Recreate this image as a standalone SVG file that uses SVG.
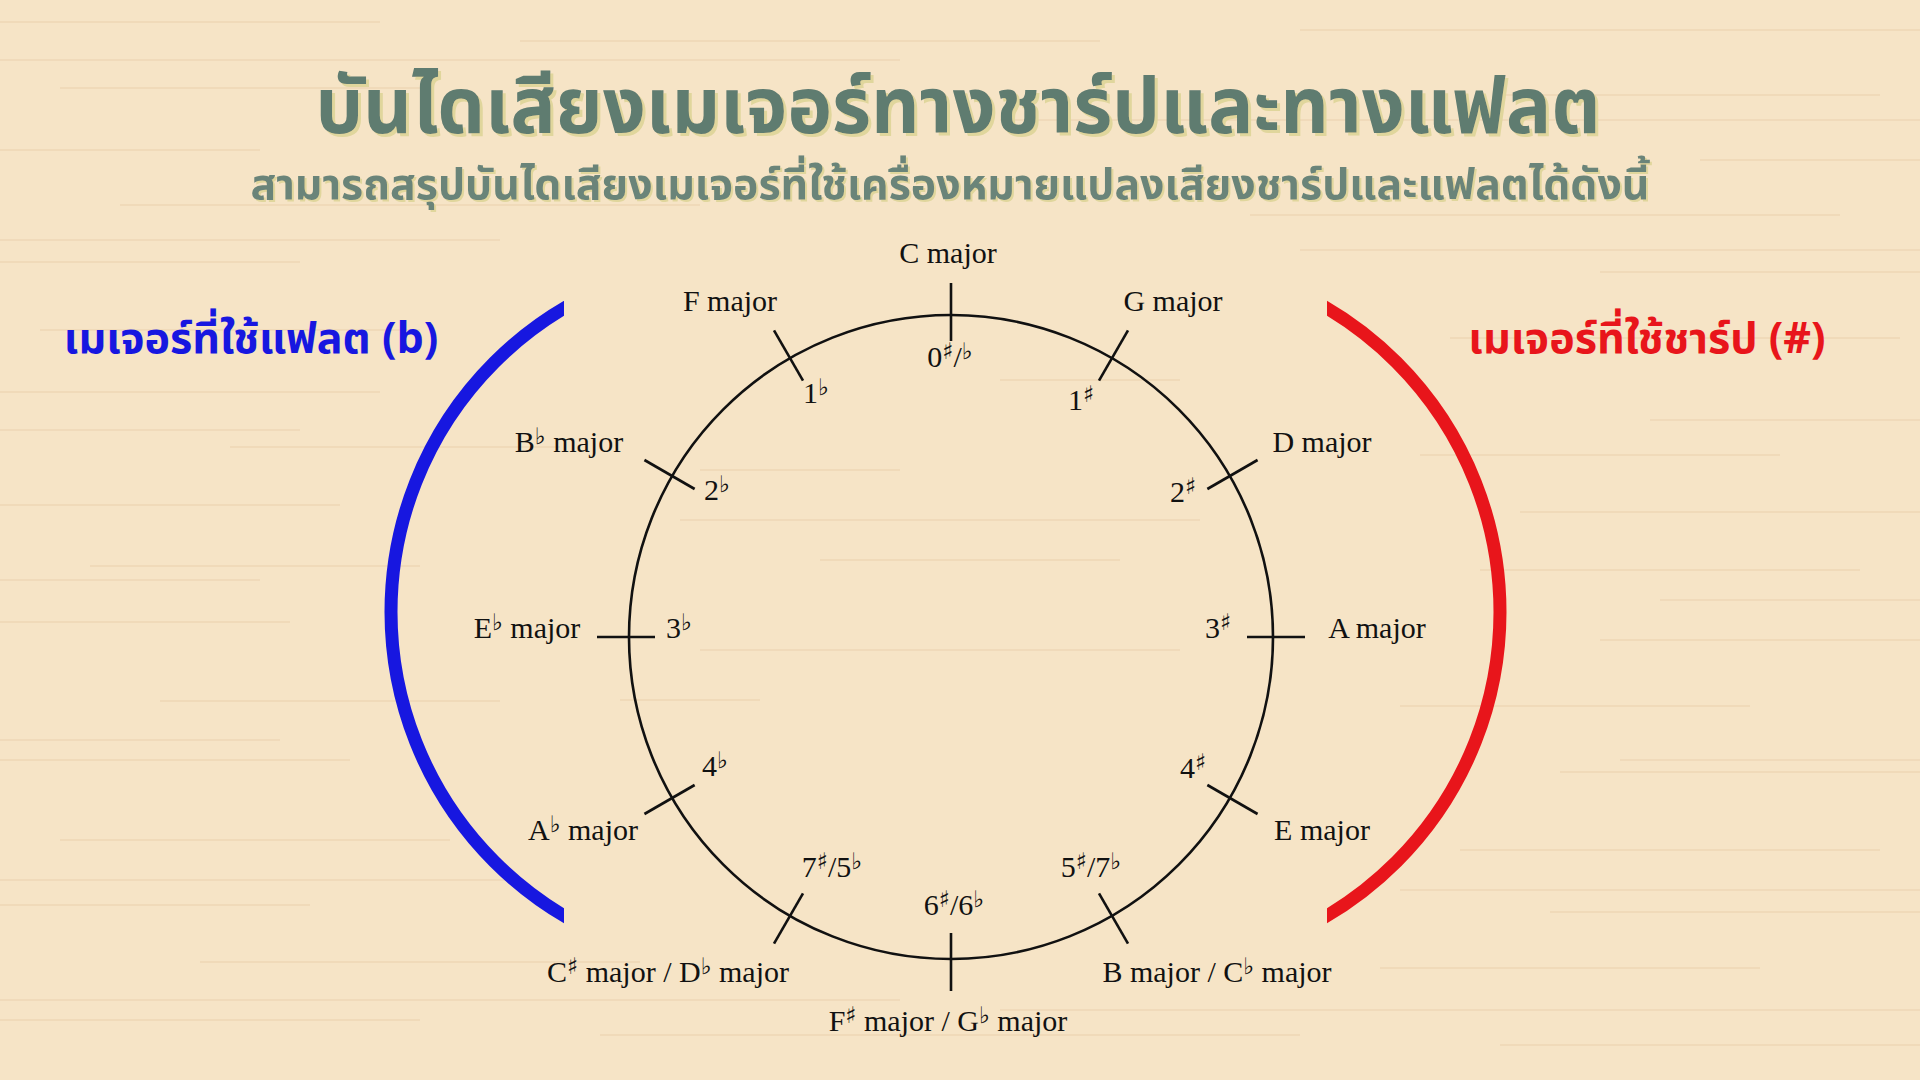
<svg xmlns="http://www.w3.org/2000/svg" width="1920" height="1080" viewBox="0 0 1920 1080">
<style>
.thai{font-family:"Noto Sans Thai","Noto Sans Thai Looped","Noto Sans","DejaVu Sans",sans-serif;font-weight:bold}
.title{font-size:78px;fill:#5f7b70;text-anchor:middle;filter:url(#sh)}
.sub{font-size:42px;fill:#6a8479;text-anchor:middle;filter:url(#sh2)}
.side{font-size:43px}
.lbl{font-family:"Liberation Serif","Times New Roman",serif;font-size:30px;fill:#111;text-anchor:middle}
.acc{font-family:"DejaVu Sans",sans-serif;font-size:23px}
.tick{stroke:#111;stroke-width:2.6;fill:none}
.streak{stroke:#e6c9a4;fill:none}
</style>
<defs>
<clipPath id="clipL"><rect x="0" y="0" width="564" height="1080"/></clipPath>
<clipPath id="clipR"><rect x="1327" y="0" width="593" height="1080"/></clipPath>
<filter id="sh" x="-5%" y="-20%" width="110%" height="140%"><feDropShadow dx="3" dy="3" stdDeviation="0.5" flood-color="#e0d69c" flood-opacity="1"/></filter>
<filter id="sh2" x="-5%" y="-20%" width="110%" height="140%"><feDropShadow dx="2" dy="2" stdDeviation="0.4" flood-color="#e0d69c" flood-opacity="1"/></filter>
</defs>
<rect x="0" y="0" width="1920" height="1080" fill="#f6e4c6"/>
<g id="texture" class="streak" stroke-width="1.2" opacity="0.7">
<path d="M0 22H380M520 41H1100M1300 30H1920M60 88H420M1500 95H1880M0 150H260M1700 160H1920M120 205H700M1250 215H1840M0 262H300M1600 272H1920M40 330H420M1450 338H1900M0 392H380M230 447H560M1420 455H1780M0 505H340M1520 512H1920M90 566H420M1480 570H1860M0 622H290M1600 640H1920M160 701H500M1400 706H1750M0 760H350M1560 772H1920M60 840H450M1460 850H1880M0 905H310M1550 912H1920M200 962H640M1380 968H1760M0 1020H420M600 1035H1300M1500 1045H1920M700 470H900M820 560H1120M620 700H760M1000 380H1180"/>
</g>
<g id="texture2" class="streak" stroke-width="2" opacity="0.35">
<path d="M0 60H900M1000 120H1920M0 240H500M1300 250H1920M0 430H300M1650 420H1920M0 580H260M1660 600H1920M0 740H280M1620 760H1920M0 880H520M1400 890H1920M0 1000H900M1000 1010H1920M680 520H1200M700 650H1180"/>
</g>

<g id="title">
<text class="thai title" x="958" y="133" textLength="1285" lengthAdjust="spacingAndGlyphs">บันไดเสียงเมเจอร์ทางชาร์ปและทางแฟลต</text>
</g>
<g id="subtitle">
<text class="thai sub" x="950" y="199" textLength="1399" lengthAdjust="spacingAndGlyphs">สามารถสรุปบันไดเสียงเมเจอร์ที่ใช้เครื่องหมายแปลงเสียงชาร์ปและแฟลตได้ดังนี้</text>
</g>

<g id="flat-label">
<text class="thai side" x="251" y="353" text-anchor="middle" fill="#1717e0">เมเจอร์ที่ใช้แฟลต (b)</text>
</g>
<g id="sharp-label">
<text class="thai side" x="1647" y="353" text-anchor="middle" fill="#e8151b">เมเจอร์ที่ใช้ชาร์ป (#)</text>
</g>

<g id="flat-arc">
<circle cx="744" cy="612" r="353" fill="none" stroke="#1717e0" stroke-width="13" clip-path="url(#clipL)"/>
</g>
<g id="sharp-arc">
<circle cx="1147" cy="612" r="353" fill="none" stroke="#e8151b" stroke-width="13" clip-path="url(#clipR)"/>
</g>

<g id="circle">
<circle cx="951" cy="637" r="322" fill="none" stroke="#111" stroke-width="2.6"/>
</g>

<g id="connectors">
<line class="tick" x1="951" y1="283" x2="951" y2="341" transform="rotate(0 951 637)"/>
<line class="tick" x1="951" y1="283" x2="951" y2="341" transform="rotate(30 951 637)"/>
<line class="tick" x1="951" y1="283" x2="951" y2="341" transform="rotate(60 951 637)"/>
<line class="tick" x1="951" y1="283" x2="951" y2="341" transform="rotate(90 951 637)"/>
<line class="tick" x1="951" y1="283" x2="951" y2="341" transform="rotate(120 951 637)"/>
<line class="tick" x1="951" y1="283" x2="951" y2="341" transform="rotate(150 951 637)"/>
<line class="tick" x1="951" y1="283" x2="951" y2="341" transform="rotate(180 951 637)"/>
<line class="tick" x1="951" y1="283" x2="951" y2="341" transform="rotate(210 951 637)"/>
<line class="tick" x1="951" y1="283" x2="951" y2="341" transform="rotate(240 951 637)"/>
<line class="tick" x1="951" y1="283" x2="951" y2="341" transform="rotate(270 951 637)"/>
<line class="tick" x1="951" y1="283" x2="951" y2="341" transform="rotate(300 951 637)"/>
<line class="tick" x1="951" y1="283" x2="951" y2="341" transform="rotate(330 951 637)"/>
</g>

<g id="key-C"><text class="lbl" x="948" y="263">C major</text><text class="lbl" x="950" y="367">0<tspan class="acc" dy="-8">♯</tspan><tspan dy="8">/</tspan><tspan class="acc" dy="-8">♭</tspan></text></g>
<g id="key-G"><text class="lbl" x="1173" y="311">G major</text><text class="lbl" x="1081" y="410">1<tspan class="acc" dy="-8">♯</tspan></text></g>
<g id="key-D"><text class="lbl" x="1322" y="452">D major</text><text class="lbl" x="1183" y="502">2<tspan class="acc" dy="-8">♯</tspan></text></g>
<g id="key-A"><text class="lbl" x="1377" y="638">A major</text><text class="lbl" x="1218" y="638">3<tspan class="acc" dy="-8">♯</tspan></text></g>
<g id="key-E"><text class="lbl" x="1322" y="840">E major</text><text class="lbl" x="1193" y="778">4<tspan class="acc" dy="-8">♯</tspan></text></g>
<g id="key-B"><text class="lbl" x="1217" y="982">B major / C<tspan class="acc" dy="-8">♭</tspan><tspan dy="8"> major</tspan></text><text class="lbl" x="1091" y="877">5<tspan class="acc" dy="-8">♯</tspan><tspan dy="8">/7</tspan><tspan class="acc" dy="-8">♭</tspan></text></g>
<g id="key-Fs"><text class="lbl" x="948" y="1031">F<tspan class="acc" dy="-8">♯</tspan><tspan dy="8"> major / G</tspan><tspan class="acc" dy="-8">♭</tspan><tspan dy="8"> major</tspan></text><text class="lbl" x="954" y="915">6<tspan class="acc" dy="-8">♯</tspan><tspan dy="8">/6</tspan><tspan class="acc" dy="-8">♭</tspan></text></g>
<g id="key-Cs"><text class="lbl" x="668" y="982">C<tspan class="acc" dy="-8">♯</tspan><tspan dy="8"> major / D</tspan><tspan class="acc" dy="-8">♭</tspan><tspan dy="8"> major</tspan></text><text class="lbl" x="832" y="877">7<tspan class="acc" dy="-8">♯</tspan><tspan dy="8">/5</tspan><tspan class="acc" dy="-8">♭</tspan></text></g>
<g id="key-Ab"><text class="lbl" x="583" y="840">A<tspan class="acc" dy="-8">♭</tspan><tspan dy="8"> major</tspan></text><text class="lbl" x="715" y="776">4<tspan class="acc" dy="-8">♭</tspan></text></g>
<g id="key-Eb"><text class="lbl" x="527" y="638">E<tspan class="acc" dy="-8">♭</tspan><tspan dy="8"> major</tspan></text><text class="lbl" x="679" y="638">3<tspan class="acc" dy="-8">♭</tspan></text></g>
<g id="key-Bb"><text class="lbl" x="569" y="452">B<tspan class="acc" dy="-8">♭</tspan><tspan dy="8"> major</tspan></text><text class="lbl" x="717" y="500">2<tspan class="acc" dy="-8">♭</tspan></text></g>
<g id="key-F"><text class="lbl" x="730" y="311">F major</text><text class="lbl" x="816" y="403">1<tspan class="acc" dy="-8">♭</tspan></text></g>
</svg>
